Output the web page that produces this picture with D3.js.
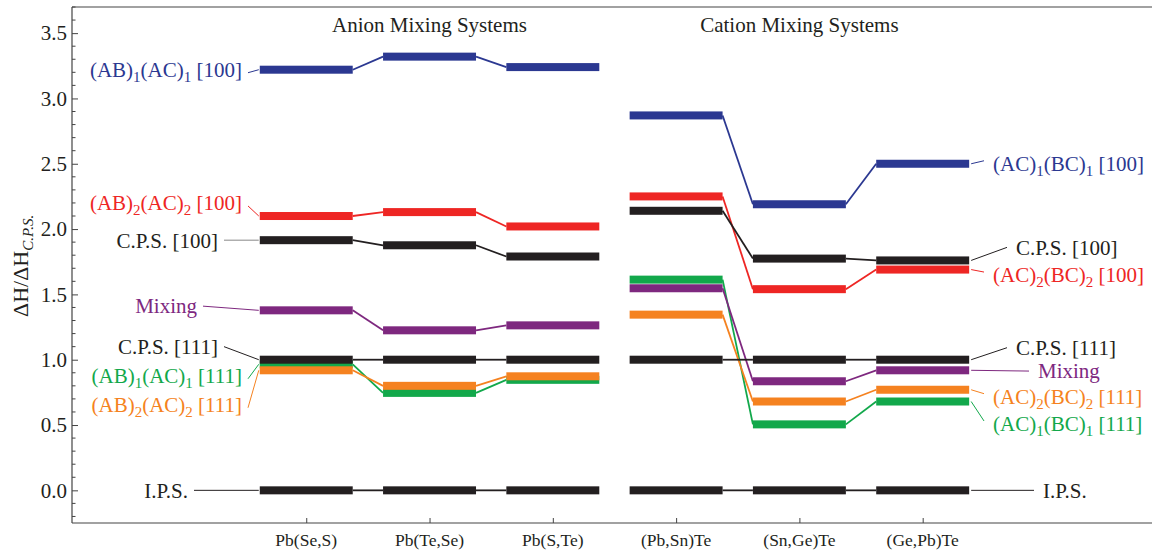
<!DOCTYPE html>
<html lang="en">
<head>
<meta charset="UTF-8">
<title>Mixing enthalpy levels</title>
<script src="https://cdn.jsdelivr.net/npm/d3@7"></script>
<style>
  body { margin: 0; background: #fff; }
  text { font-family: "Liberation Serif", "DejaVu Serif", serif; }
</style>
</head>
<body>
<svg width="1152" height="554" id="mainsvg"></svg>
<script>
// systems on the x axis (first three anion, last three cation)
const systems = ['Pb(Se,S)', 'Pb(Te,Se)', 'Pb(S,Te)', '(Pb,Sn)Te', '(Sn,Ge)Te', '(Ge,Pb)Te']
const groupTitles = ['Anion Mixing Systems', 'Cation Mixing Systems']
const yTicks = [0, 0.5, 1.0, 1.5, 2.0, 2.5, 3.0, 3.5]

// dH / dH_CPS for each structure, one value per system
const blue100   = [3.22, 3.32, 3.24, 2.87, 2.19, 2.50]
const red100    = [2.10, 2.13, 2.02, 2.25, 1.54, 1.69]
const cps100    = [1.915, 1.876, 1.79, 2.14, 1.774, 1.76]
const mixing    = [1.378, 1.225, 1.263, 1.547, 0.835, 0.919]
const cps111    = [1.0, 1.0, 1.0, 1.0, 1.0, 1.0]
const green111  = [0.965, 0.746, 0.846, 1.613, 0.505, 0.68]
const orange111 = [0.919, 0.80, 0.873, 1.345, 0.68, 0.77]
const ips       = [0, 0, 0, 0, 0, 0]

const series = [
  {key: 'green111', values: green111, color: '#12a84b'},
  {key: 'orange111', values: orange111, color: '#f58220'},
  {key: 'mixing', values: mixing, color: '#7e287f'},
  {key: 'red100', values: red100, color: '#ee2624'},
  {key: 'blue100', values: blue100, color: '#2b3891'},
  {key: 'cps100', values: cps100, color: '#231f20'},
  {key: 'cps111', values: cps111, color: '#231f20'},
  {key: 'ips', values: ips, color: '#231f20'}
]
const colorOf = {}
series.forEach(s => colorOf[s.key] = s.color)

// label text parts: [text, isSubscript]
const leftLabels = [
  {key: 'blue100', parts: [['(AB)'], ['1', 1], ['(AC)'], ['1', 1], [' [100]']], at: 3.22, end: 242},
  {key: 'red100', parts: [['(AB)'], ['2', 1], ['(AC)'], ['2', 1], [' [100]']], at: 2.20, end: 242},
  {key: 'cps100', parts: [['C.P.S. [100]']], at: 1.915, end: 218},
  {key: 'mixing', parts: [['Mixing']], at: 1.41, end: 197},
  {key: 'cps111', parts: [['C.P.S. [111]']], at: 1.10, end: 218},
  {key: 'green111', parts: [['(AB)'], ['1', 1], ['(AC)'], ['1', 1], [' [111]']], at: 0.877, end: 242},
  {key: 'orange111', parts: [['(AB)'], ['2', 1], ['(AC)'], ['2', 1], [' [111]']], at: 0.655, end: 242},
  {key: 'ips', parts: [['I.P.S.']], at: 0, end: 188}
]
const rightLabels = [
  {key: 'blue100', parts: [['(AC)'], ['1', 1], ['(BC)'], ['1', 1], [' [100]']], at: 2.50, start: 993},
  {key: 'cps100', parts: [['C.P.S. [100]']], at: 1.86, start: 1016},
  {key: 'red100', parts: [['(AC)'], ['2', 1], ['(BC)'], ['2', 1], [' [100]']], at: 1.648, start: 993},
  {key: 'cps111', parts: [['C.P.S. [111]']], at: 1.092, start: 1016},
  {key: 'mixing', parts: [['Mixing']], at: 0.913, start: 1038},
  {key: 'orange111', parts: [['(AC)'], ['2', 1], ['(BC)'], ['2', 1], [' [111]']], at: 0.717, start: 993},
  {key: 'green111', parts: [['(AC)'], ['1', 1], ['(BC)'], ['1', 1], [' [111]']], at: 0.508, start: 993},
  {key: 'ips', parts: [['I.P.S.']], at: 0, start: 1043}
]

const svg = d3.select('#mainsvg')
const margin = {left: 72, right: 1152, top: 7, bottom: 523}
const halfW = 0.377
const barH = 8

const x = d3.scaleLinear().domain([-1.9, 6.86]).range([margin.left, margin.right])
const y = d3.scaleLinear().domain([-0.25, 3.7]).range([margin.bottom, margin.top])

// frame
const frame = svg.append('g').attr('stroke', '#444').attr('stroke-width', 1.2)
frame.append('line').attr('x1', margin.left).attr('x2', margin.right).attr('y1', margin.top).attr('y2', margin.top)
frame.append('line').attr('x1', margin.left).attr('x2', margin.right).attr('y1', margin.bottom).attr('y2', margin.bottom)

// y axis with inward ticks
const yAxis = d3.axisRight(y).tickValues(yTicks).tickSize(6).tickFormat('')
const yg = svg.append('g').attr('transform', `translate(${margin.left},0)`).call(yAxis)
yg.select('.domain').attr('d', `M0,${margin.top}V${margin.bottom}`).attr('stroke', '#444').attr('stroke-width', 1.2)
yg.selectAll('.tick line').attr('stroke', '#444')
const minor = d3.range(-2, 38).map(d => d / 10).filter(v => Math.round(v * 10) % 5 !== 0)
yg.selectAll('.minor').data(minor).join('line')
  .attr('x1', 0).attr('x2', 3.5)
  .attr('y1', d => y(d)).attr('y2', d => y(d))
  .attr('stroke', '#444')
svg.append('g').selectAll('text').data(yTicks).join('text')
  .attr('x', margin.left - 5).attr('y', d => y(d)).attr('dy', '0.35em')
  .attr('text-anchor', 'end').attr('font-size', 21).attr('fill', '#231f20')
  .text(d3.format('.1f'))

// x axis with inward ticks
const xAxis = d3.axisTop(x).tickValues(d3.range(systems.length)).tickSize(5).tickFormat('')
const xg = svg.append('g').attr('transform', `translate(0,${margin.bottom})`).call(xAxis)
xg.select('.domain').remove()
xg.selectAll('.tick line').attr('stroke', '#444')
svg.append('g').selectAll('text').data(systems).join('text')
  .attr('x', (d, i) => x(i)).attr('y', 546)
  .attr('text-anchor', 'middle').attr('font-size', 17.5).attr('fill', '#231f20')
  .text(d => d)

// group titles
svg.append('g').selectAll('text').data(groupTitles).join('text')
  .attr('x', (d, i) => x(1 + i * 3)).attr('y', 32)
  .attr('text-anchor', 'middle').attr('font-size', 21).attr('fill', '#231f20')
  .text(d => d)

// y axis title
const yt = svg.append('text')
  .attr('transform', `translate(28,317) rotate(-90)`)
  .attr('font-size', 22).attr('fill', '#231f20')
yt.append('tspan').text('ΔH/ΔH')
yt.append('tspan').attr('font-style', 'italic').attr('font-size', 15).attr('dy', 5).text('C.P.S.')

// levels and connectors
const groups = [[0, 1, 2], [3, 4, 5]]
series.forEach(s => {
  const g = svg.append('g')
  groups.forEach(idx => {
    for (let k = 0; k < idx.length - 1; k++) {
      const a = idx[k], b = idx[k + 1]
      g.append('line')
        .attr('x1', x(a + halfW)).attr('y1', y(s.values[a]))
        .attr('x2', x(b - halfW)).attr('y2', y(s.values[b]))
        .attr('stroke', s.color).attr('stroke-width', 1.8)
    }
  })
  g.selectAll('rect').data(s.values).join('rect')
    .attr('x', (d, i) => x(i - halfW))
    .attr('width', (d, i) => x(i + halfW) - x(i - halfW))
    .attr('y', d => y(d) - barH / 2)
    .attr('height', barH)
    .attr('fill', s.color)
})

function writeLabel(sel, parts) {
  parts.forEach((p, i) => {
    const t = sel.append('tspan').text(p[0])
    if (p[1]) t.attr('font-size', 15).attr('dy', 5)
    else if (i > 0 && parts[i - 1][1]) t.attr('dy', -5)
  })
}

const barOf = {}
series.forEach(s => barOf[s.key] = s.values)

leftLabels.forEach(l => {
  const c = colorOf[l.key]
  svg.append('line')
    .attr('x1', l.end + 6).attr('y1', y(l.at) + (l.parts.length > 1 ? 3 : 0))
    .attr('x2', x(0 - halfW) - 1).attr('y2', y(barOf[l.key][0]))
    .attr('stroke', l.key === 'cps100' ? '#888' : c).attr('stroke-width', 1)
  const t = svg.append('text')
    .attr('x', l.end).attr('y', y(l.at)).attr('dy', '0.35em')
    .attr('text-anchor', 'end').attr('font-size', 21).attr('fill', c)
  writeLabel(t, l.parts)
})

rightLabels.forEach(l => {
  const c = colorOf[l.key]
  svg.append('line')
    .attr('x1', x(5 + halfW) + 2).attr('y1', y(barOf[l.key][5]))
    .attr('x2', l.start - 9).attr('y2', y(l.at) + (l.parts.length > 1 ? -3 : 0))
    .attr('stroke', c).attr('stroke-width', 1)
  const t = svg.append('text')
    .attr('x', l.start).attr('y', y(l.at)).attr('dy', '0.35em')
    .attr('font-size', 21).attr('fill', c)
  writeLabel(t, l.parts)
})
</script>
</body>
</html>
